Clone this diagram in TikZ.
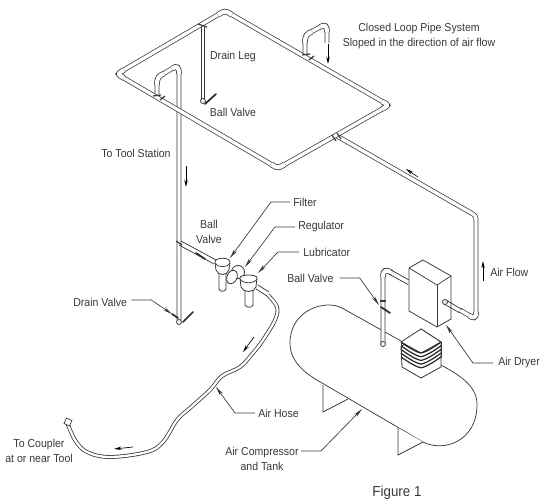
\documentclass[tikz,border=0pt]{standalone}
\usepackage{fontspec}
\setmainfont[FakeStretch=0.92]{Liberation Sans}
\usetikzlibrary{arrows.meta}
\definecolor{ink}{gray}{0.22}
\tikzset{
  pipe/.style={line join=round,preaction={draw=ink,line width=3.6pt},draw=white,line width=2.5pt},
  elbow/.style={line join=round,preaction={draw=ink,line width=4.2pt},draw=white,line width=3.1pt},
  hose/.style={line join=round,preaction={draw=ink,line width=2.9pt},draw=white,line width=1.7pt},
  lbl/.style={font=\fontsize{8.6pt}{11.2pt}\selectfont,text=ink,inner sep=0pt,align=center},
  leader/.style={draw=ink,line width=0.5pt,-{Stealth[length=7pt,width=2.6pt]}},
  flow/.style={draw=black,line width=0.5pt,-{Stealth[length=5.5pt,width=2.6pt]}},
  handle/.style={draw=ink!80!black,line width=1.3pt,line cap=round},
  fitting/.style={draw=ink,line width=0.9pt},
  part/.style={draw=ink,line width=0.6pt,fill=white},
  outline/.style={draw=ink,line width=0.55pt},
  leg/.style={draw=ink,line width=0.6pt,fill=white},
}
\begin{document}
\begin{tikzpicture}[x=0.75pt,y=-0.75pt]
\useasboundingbox (0,0) rectangle (550,503);
% tank
\draw[outline] (401,341) -- (342,308) .. controls (325,299) and (290,310) .. (290,343)
  .. controls (290,360) and (302,372) .. (322,383) -- (423,442)
  .. controls (445,453) and (477,440) .. (477,405) .. controls (477,388) and (465,378) .. (441,365);
\draw[leg] (323,385) -- (323,412) -- (348,399);
\draw[leg] (398,428) -- (398,455) -- (423,442);
% branches
\draw[pipe] (305,56) -- (305,41) .. controls (305,35) and (307,34) .. (311,32) -- (321,26.5) .. controls (325,24) and (327,26) .. (327,31) -- (327,43);
\draw[pipe] (157,97) -- (157,83) .. controls (157,77) and (159,76) .. (163,74) -- (173,68) .. controls (177,65.5) and (179,67) .. (179,73) -- (179,320);
\draw[pipe] (337,136) -- (472,213.5) .. controls (475,215.5) and (476,216) .. (476,220) -- (476,313) .. controls (476,319) and (473,318) .. (470,316) -- (460,310);
% filter branch, as two lines
\draw[outline] (181,241) -- (216,260);
\draw[outline] (179,245) -- (214,264);
% loop
\draw[pipe] (221,13) .. controls (224,11) and (226,11) .. (229,13) -- (384,102.5) .. controls (388,105) and (388,105.5) .. (384,108) -- (282,166) .. controls (279,168) and (277,168) .. (274,166) -- (122,77) .. controls (118,74.5) and (118,73.5) .. (122,71) -- cycle;
% elbows
\draw[elbow] (218,15) .. controls (224,10.5) and (226,10.5) .. (232,15);
\draw[elbow] (382,101.5) .. controls (389,105) and (389,105.5) .. (382,109);
\draw[elbow] (271,164) .. controls (277,168.5) and (279,168.5) .. (285,164);
\draw[elbow] (124,70) .. controls (117,74) and (117,74) .. (124,78);
\draw[elbow] (320,27) .. controls (325,24) and (327,26) .. (327,32);
\draw[elbow] (172,68.5) .. controls (177,65.5) and (179,67) .. (179,74);
\draw[elbow] (305,43) .. controls (305,35) and (307,34) .. (312,31.5);
\draw[elbow] (157,85) .. controls (157,77) and (159,76) .. (164,73.5);
\draw[elbow] (476,312) .. controls (476,319) and (473,318) .. (469,315.5);
% fittings
\draw[fitting] (198,24) -- (207,27);
\draw[fitting] (302,55) -- (310,54);
\draw[fitting] (309,60) -- (314,56);
\draw[fitting] (153,96) -- (161,95);
\draw[fitting] (160,100) -- (165,96);
\draw[fitting] (332,135) -- (336,141);
\draw[fitting] (337,133) -- (341,139);
\draw[fitting] (176,241) -- (182,245);
\draw[part] (179,322) circle[radius=2.5];
\draw[handle] (205,104) -- (216,94);
\draw[handle] (183,322) -- (193,312);
\draw[handle] (172,314) -- (178,318);
\draw[handle] (196,253) -- (205,259);
% dryer
\draw[part,line join=round] (409,268) -- (423,260) -- (451,276) -- (451,319) -- (437,327) -- (409,311) -- cycle;
\draw[outline] (409,268) -- (437,285) -- (451,276);
\draw[outline] (437,285) -- (437,327);
% dryer outlet, as two lines
\draw[outline] (446,300) -- (462,309.5);
\draw[outline] (444,304) -- (460,313);
\draw[part] (445,302) circle[radius=2.5];
% tank-side riser
\draw[pipe] (383,343) -- (383,275) .. controls (383,270) and (386,269) .. (390,271.5);
\draw[elbow] (383,277) .. controls (383,270) and (386,269) .. (392,273);
\draw[outline] (391,270) -- (409,280);
\draw[outline] (389,274) -- (408,284.5);
\draw[part] (383,344) circle[radius=2.5];
\draw[fitting] (380,301) -- (386,301);
\draw[handle] (381,307) -- (390,313);
% compressor
\draw[part] (401,347) -- (421,329) -- (441,342) -- (441,367) -- (421,378) -- (402,367) -- cycle;
\draw[part,line join=round] (401,342) -- (421,329) -- (441,342) -- (421,353) -- cycle;
\foreach \d in {0,3.7,7.4,11.1,14.8}
  \draw[draw=black!85,line width=0.9pt] (401,342+\d) .. controls (405,345+\d) and (415,352+\d) .. (421,353+\d) .. controls (427,352+\d) and (437,345+\d) .. (441,342+\d);
\draw[outline] (401,342) -- (401,358);
\draw[outline] (441,342) -- (441,358);
% filter
\draw[part] (219,272) -- (219,289) .. controls (220,292) and (225,292) .. (226,289) -- (226,272) -- cycle;
\draw[part] (215,262) .. controls (215,257) and (230,257) .. (230,262) -- (229,270) .. controls (227,276) and (218,276) .. (216,270) -- cycle;
\draw[outline] (215,263) .. controls (217,268) and (228,268) .. (230,263);
% regulator
\draw[part] (238,272) circle[radius=6.5];
\draw[part] (232,277) ellipse[x radius=5,y radius=7,rotate=-25];
% lubricator
\draw[part] (245,290) -- (245,305) .. controls (246,308) and (252,308) .. (253,305) -- (253,290) -- cycle;
\draw[part] (240,278) .. controls (240,274) and (257,274) .. (257,278) -- (256,287) .. controls (254,293) and (243,293) .. (241,287) -- cycle;
\draw[outline] (240,279) .. controls (243,284) and (254,284) .. (257,279);
% hose
\draw[outline] (258,285) -- (269,292);
\draw[outline] (256,289) -- (267,296);
\draw[hose] plot[smooth,tension=0.6] coordinates {(268,295) (277,307) (275,320) (263,340) (253,353) (240,367) (222,376) (210,390) (190,408) (177,420) (163,442) (147,452) (110,457) (87,452) (75,440) (67,422)};
\draw[part,line width=0.5pt,rotate around={-25:(68,422)}] (65,419) rectangle (71,425);
% labels
\node[lbl] (closed) at (419,36) {Closed Loop Pipe System\\Sloped in the direction of air flow};
\node[lbl] (drainleg) at (233,57) {Drain Leg};
\node[lbl] (bv1) at (233,112) {Ball Valve};
\node[lbl] (tool) at (136,153) {To Tool Station};
\node[lbl] (bv2) at (209,232) {Ball\\Valve};
\node[lbl,anchor=west] (filter) at (293,202) {Filter};
\node[lbl,anchor=west] (reg) at (298,227) {Regulator};
\node[lbl,anchor=west] (lub) at (303,252) {Lubricator};
\node[lbl,anchor=west] (bv3) at (287,278) {Ball Valve};
\node[lbl,anchor=west] (airflow) at (490,272) {Air Flow};
\node[lbl,anchor=west] (dryer) at (498,363) {Air Dryer};
\node[lbl,anchor=west] (hoselbl) at (258,413) {Air Hose};
\node[lbl] (comp) at (262,458.5) {Air Compressor\\and Tank};
\node[lbl] (coupler) at (39,450.5) {To Coupler\\at or near Tool};
\node[lbl,anchor=west] (drain) at (73,302) {Drain Valve};
\node[lbl,font=\fontsize{10.9pt}{12pt}\selectfont] (fig) at (397,493) {Figure 1};
% leader ends
\coordinate (tfilter) at (230,258);
\coordinate (treg) at (245,267);
\coordinate (tlub) at (258,273);
\coordinate (tbv3) at (379,305);
\coordinate (tdryer) at (446,325);
\coordinate (those) at (216,387);
\coordinate (tcomp) at (362,409);
\coordinate (tdrain) at (172,314);
\draw[leader] (filter.west) ++(-3,0) -- ++(-19,0) -- (tfilter);
\draw[leader] (reg.west) ++(-3,0) -- ++(-20,0) -- (treg);
\draw[leader] (lub.west) ++(-4,0) -- ++(-21,0) -- (tlub);
\draw[leader] (bv3.east) ++(6,0) -- ++(20,0) -- (tbv3);
\draw[leader] (dryer.west) ++(-5,0) -- ++(-20,0) -- (tdryer);
\draw[leader] (hoselbl.west) ++(-3,0) -- ++(-20,0) -- (those);
\draw[leader] (comp.east) ++(2,-7.5) -- ++(20,0) -- (tcomp);
\draw[leader] (drain.east) ++(4,-2) -- ++(20,0) -- (tdrain);
% flow arrows
\coordinate (f1a) at (328,44); \coordinate (f1b) at (328,64);
\coordinate (f2a) at (186,166); \coordinate (f2b) at (186,187);
\coordinate (f3a) at (418,177); \coordinate (f3b) at (406,169);
\coordinate (f4a) at (483,281); \coordinate (f4b) at (483,261);
\coordinate (f5a) at (254,337); \coordinate (f5b) at (243,352);
\coordinate (f6a) at (133,447); \coordinate (f6b) at (114,449);
\foreach \a/\b in {f1a/f1b,f2a/f2b,f3a/f3b,f4a/f4b,f5a/f5b,f6a/f6b}
  \draw[flow] (\a) -- (\b);
% drain leg, as two lines
\draw[outline] (201.5,27) -- (201.5,100);
\draw[outline] (204.5,27) -- (204.5,100);
\draw[part] (203,101) circle[radius=2.5];
\end{tikzpicture}
\end{document}
